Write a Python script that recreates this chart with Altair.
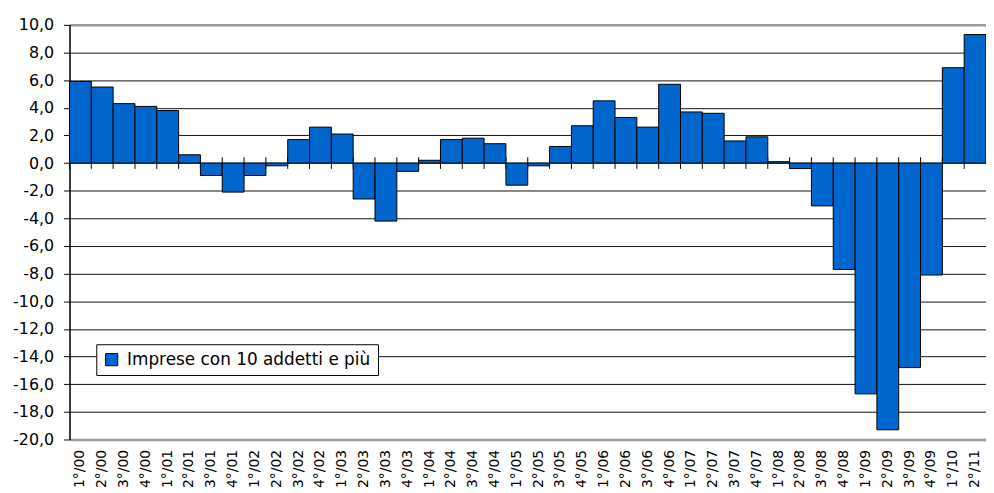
import altair as alt
import pandas as pd

quarters = [
    "1°/00", "2°/00", "3°/00", "4°/00",
    "1°/01", "2°/01", "3°/01", "4°/01",
    "1°/02", "2°/02", "3°/02", "4°/02",
    "1°/03", "2°/03", "3°/03", "4°/03",
    "1°/04", "2°/04", "3°/04", "4°/04",
    "1°/05", "2°/05", "3°/05", "4°/05",
    "1°/06", "2°/06", "3°/06", "4°/06",
    "1°/07", "2°/07", "3°/07", "4°/07",
    "1°/08", "2°/08", "3°/08", "4°/08",
    "1°/09", "2°/09", "3°/09", "4°/09",
    "1°/10", "2°/11",
]
values = [
    5.9, 5.5, 4.3, 4.1,
    3.8, 0.6, -0.9, -2.1,
    -0.9, -0.2, 1.7, 2.6,
    2.1, -2.6, -4.2, -0.6,
    0.2, 1.7, 1.8, 1.4,
    -1.6, -0.2, 1.2, 2.7,
    4.5, 3.3, 2.6, 5.7,
    3.7, 3.6, 1.6, 1.9,
    0.1, -0.4, -3.1, -7.7,
    -16.7, -19.3, -14.8, -8.1,
    6.9, 9.3,
]
series_name = "Imprese con 10 addetti e più"
y_ticks = list(range(-20, 12, 2))

df = pd.DataFrame({"q": quarters, "v": values, "serie": series_name})

FONT = "DejaVu Sans"

x_axis = alt.Axis(
    title=None, labelAngle=-90, labelAlign="right", labelBaseline="middle",
    ticks=False, domain=False, grid=False, labelPadding=10,
    labelFont=FONT, labelFontSize=14, labelColor="black",
    labelOverlap=False, labelLimit=0,
)
x_scale = alt.Scale(paddingInner=0, paddingOuter=0)
y_scale = alt.Scale(domain=[-20, 10], nice=False, zero=False)
edge = "datum.value == 10 || datum.value == -20"
y_axis = alt.Axis(
    title=None, values=y_ticks,
    labelExpr="replace(replace(format(datum.value, '.1f'), '.', ','), '\u2212', '-')",
    labelFont=FONT, labelFontSize=16, labelColor="black", labelPadding=10,
    labelOverlap=False, labelLimit=0,
    tickSize=6, tickColor="black", domainColor="black", domainWidth=1.5,
    grid=True,
    gridColor=alt.condition(edge, alt.value("#999999"), alt.value("#111111")),
    gridWidth=alt.condition(edge, alt.value(2.5), alt.value(1)),
)

ticks = alt.Chart(df).mark_rule(color="black", strokeWidth=1).encode(
    x=alt.X("q:N", sort=quarters, bandPosition=0, scale=x_scale, axis=x_axis),
    y=alt.Y(datum=-0.42, scale=y_scale, axis=y_axis),
    y2=alt.datum(0.42),
)

bars = alt.Chart(df).mark_bar(stroke="black", strokeWidth=1).encode(
    x=alt.X("q:N", sort=quarters, scale=x_scale, axis=x_axis),
    y=alt.Y("v:Q", scale=y_scale, axis=y_axis),
    color=alt.Color(
        "serie:N",
        scale=alt.Scale(range=["#0066CC"]),
        legend=alt.Legend(
            title=None, orient="none", legendX=27, legendY=322,
            fillColor="white", strokeColor="black", padding=7,
            symbolType="square", symbolSize=150, symbolStrokeColor="black",
            symbolStrokeWidth=1, labelFont=FONT, labelFontSize=17,
            labelColor="black", labelOffset=7, labelLimit=0,
        ),
    ),
)

chart = (
    alt.layer(ticks, bars)
    .properties(
        width=924, height=418,
        autosize=alt.AutoSizeParams(type="none"),
        padding={"left": 62, "top": 15, "right": 0, "bottom": 55},
    )
    .configure_view(stroke=None)
    .configure(background="white")
)

chart.save("out.html", embed_options={"renderer": "svg", "actions": False})
